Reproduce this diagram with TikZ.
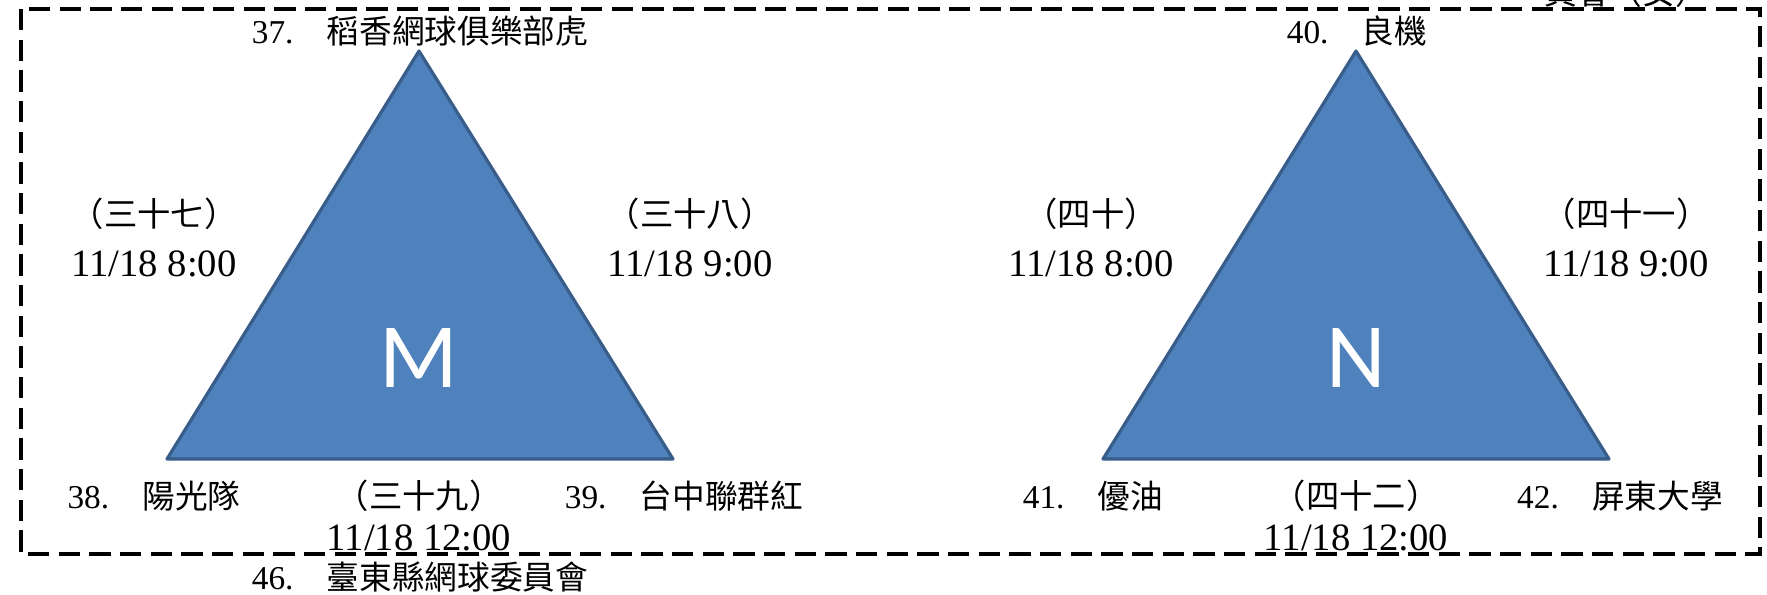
\documentclass[tikz,border=0pt]{standalone}
\usepackage{fontspec}
\setmainfont{Liberation Serif}
\newfontfamily\cjkf{Noto Sans CJK TC}
\newfontfamily\letf{Carlito}
\definecolor{triblue}{HTML}{4F81BD}
\definecolor{triedge}{HTML}{385D8A}
\newcommand\zhtxt[1]{{\cjkf\fontsize{24.5}{30}\selectfont #1}}
\newcommand\zhpar[1]{{\cjkf\fontsize{25}{30}\selectfont #1}}
\tikzset{
  x=0.75pt, y=-0.75pt,
  namelbl/.style={inner sep=0pt, font=\fontsize{25}{28}\selectfont},
  paren/.style={inner sep=0pt},
  timelbl/.style={inner sep=0pt, font=\fontsize{29}{34}\selectfont},
  tri/.style={fill=triblue, draw=triedge, line width=2.4pt, line join=round},
  bigletter/.style={text=white, inner sep=0pt, font=\letf\fontsize{69}{80}\selectfont},
  frame/.style={draw=black, line width=3.5pt, dash pattern=on 16pt off 7pt}
}
\begin{document}
\begin{tikzpicture}
\useasboundingbox (0,0) rectangle (1767,594);
% frame
\coordinate (fa) at (21,9);
\coordinate (fb) at (1760,554);
\draw[frame] (fa) rectangle (fb);
% cut-off text at top right
\node[namelbl, anchor=base east] (cut) at (1708,4) {\zhtxt{員會（女）}};

% triangle M
\coordinate (Ma) at (419,51);
\coordinate (Mb) at (167,459);
\coordinate (Mc) at (673,459);
\draw[tri] (Ma) -- (Mb) -- (Mc) -- cycle;
\node[bigletter] (M) at (419,358) {M};

% triangle N
\coordinate (Na) at (1356,51);
\coordinate (Nb) at (1103,459);
\coordinate (Nc) at (1609,459);
\draw[tri] (Na) -- (Nb) -- (Nc) -- cycle;
\node[bigletter] (N) at (1356,358) {N};

% labels M
\node[namelbl] (n37) at (420,31) {37.\hspace{25pt}\zhtxt{稻香網球俱樂部虎}};
\node[paren] (p37) at (154,214) {\zhpar{（三十七）}};
\node[timelbl] (t37) at (154,264) {11/18 8:00};
\node[paren] (p38) at (690,214) {\zhpar{（三十八）}};
\node[timelbl] (t38) at (690,264) {11/18 9:00};
\node[namelbl] (n38) at (154,496) {38.\hspace{25pt}\zhtxt{陽光隊}};
\node[paren] (p39) at (419,496) {\zhpar{（三十九）}};
\node[timelbl] (t39) at (419,538) {11/18 12:00};
\node[namelbl] (n39) at (684,496) {39.\hspace{25pt}\zhtxt{台中聯群紅}};
\node[namelbl] (n46) at (420,577) {46.\hspace{25pt}\zhtxt{臺東縣網球委員會}};

% labels N
\node[namelbl] (n40) at (1357,31) {40.\hspace{25pt}\zhtxt{良機}};
\node[paren] (p40) at (1091,214) {\zhpar{（四十）}};
\node[timelbl] (t40) at (1091,264) {11/18 8:00};
\node[paren] (p41) at (1626,214) {\zhpar{（四十一）}};
\node[timelbl] (t41) at (1626,264) {11/18 9:00};
\node[namelbl] (n41) at (1093,496) {41.\hspace{25pt}\zhtxt{優油}};
\node[paren] (p42) at (1356,496) {\zhpar{（四十二）}};
\node[timelbl] (t42) at (1356,538) {11/18 12:00};
\node[namelbl] (n42) at (1620,496) {42.\hspace{25pt}\zhtxt{屏東大學}};
\end{tikzpicture}
\end{document}
